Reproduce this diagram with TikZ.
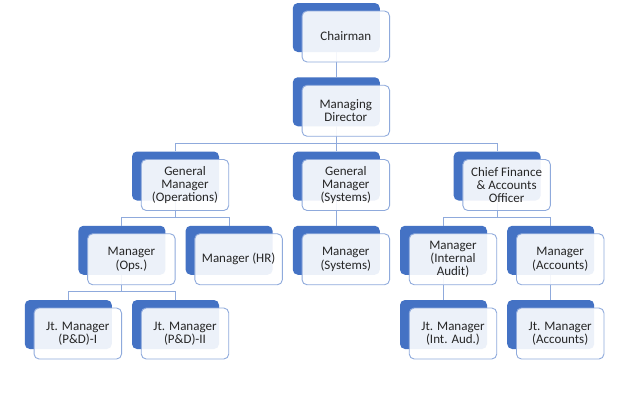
\documentclass[tikz,border=0pt]{standalone}
\usepackage{fontspec}
\setmainfont{Carlito}
\usepackage{tikz}
\definecolor{cardblue}{RGB}{68,114,196}
\definecolor{cardline}{RGB}{143,170,220}
\definecolor{cardtext}{RGB}{38,38,38}

\begin{document}
\begin{tikzpicture}[x=1pt,y=-1pt]
\tikzset{back/.style = {shape=rectangle,rounded corners=5pt,fill=cardblue,minimum width=87pt,minimum height=49pt,inner sep=0pt}}
\tikzset{front/.style = {shape=rectangle,rounded corners=5pt,draw=cardline,line width=0.9pt,fill=white,fill opacity=0.9,text opacity=1,text=cardtext,minimum width=87.5pt,minimum height=51pt,inner sep=1pt,align=center,font=\fontsize{13}{13.4}\selectfont}}
\tikzset{link/.style = {-,draw=cardline,line width=1pt}}
\fill[white] (0,0) rectangle (643,416);
\useasboundingbox (0,0) rectangle (643,416);

% back cards
\node[back] (chair) at (336.3,27.5)  {};
\node[back] (md)    at (336.3,101.75) {};
\node[back] (gmops) at (175.5,176) {};
\node[back] (gmsys) at (336.3,176) {};
\node[back] (cfao)  at (497.1,176) {};
\node[back] (mops)  at (121.9,250.25) {};
\node[back] (mhr)   at (229.1,250.25) {};
\node[back] (msys)  at (336.3,250.25) {};
\node[back] (mia)   at (443.5,250.25) {};
\node[back] (macc)  at (550.7,250.25) {};
\node[back] (jtpd1) at (68.3,324.5) {};
\node[back] (jtpd2) at (175.5,324.5) {};
\node[back] (jtia)  at (443.5,324.5) {};
\node[back] (jtacc) at (550.7,324.5) {};

% links
\draw[link] (chair.south) to (md.north);
\draw[link] (md.south) -- ++(0,17) -| (gmops.north);
\draw[link] (md.south) -- ++(0,17) -| (cfao.north);
\draw[link] (md.south) to (gmsys.north);
\draw[link] (gmops.south) -- ++(0,17) -| (mops.north);
\draw[link] (gmops.south) -- ++(0,17) -| (mhr.north);
\draw[link] (gmsys.south) to (msys.north);
\draw[link] (cfao.south) -- ++(0,17) -| (mia.north);
\draw[link] (cfao.south) -- ++(0,17) -| (macc.north);
\draw[link] (mops.south) -- ++(0,17) -| (jtpd1.north);
\draw[link] (mops.south) -- ++(0,17) -| (jtpd2.north);
\draw[link] (mia.south) to (jtia.north);
\draw[link] (macc.south) to (jtacc.north);

% front cards
\node[front] (chairf) at (345.8,36.5)  {Chairman};
\node[front] (mdf)    at (345.8,110.75) {Managing\\Director};
\node[front] (gmopsf) at (185,185) {General\\Manager\\(Operations)};
\node[front] (gmsysf) at (345.8,185) {General\\Manager\\(Systems)};
\node[front] (cfaof)  at (506.6,185) {Chief Finance\\\& Accounts\\Officer};
\node[front] (mopsf)  at (131.4,259.25) {Manager\\(Ops.)};
\node[front] (mhrf)   at (238.6,259.25) {Manager (HR)};
\node[front] (msysf)  at (345.8,259.25) {Manager\\(Systems)};
\node[front] (miaf)   at (453,259.25) {Manager\\(Internal\\Audit)};
\node[front] (maccf)  at (560.2,259.25) {Manager\\(Accounts)};
\node[front] (jtpd1f) at (77.8,333.5) {Jt. Manager\\(P\&D)-I};
\node[front] (jtpd2f) at (185,333.5) {Jt. Manager\\(P\&D)-II};
\node[front] (jtiaf)  at (453,333.5) {Jt. Manager\\(Int. Aud.)};
\node[front] (jtaccf) at (560.2,333.5) {Jt. Manager\\(Accounts)};
\end{tikzpicture}
\end{document}
